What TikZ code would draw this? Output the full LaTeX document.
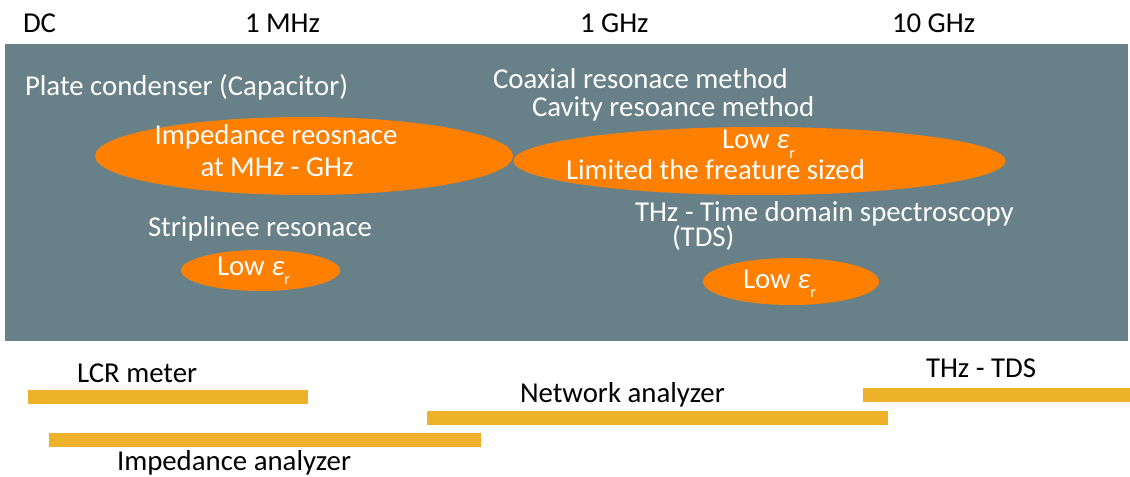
\documentclass[tikz,border=0pt]{standalone}
\usepackage{fontspec}
\setmainfont{Carlito}
\usetikzlibrary{shapes.geometric}
\definecolor{panel}{RGB}{104,128,135}
\definecolor{blob}{RGB}{255,128,0}
\definecolor{barc}{RGB}{237,178,42}
\newcommand{\epsr}{{\itshape ε}\raisebox{-0.33em}{\fontsize{12}{12}\selectfont r}}
\begin{document}
\begin{tikzpicture}[x=0.75pt,y=-0.75pt,
  lbl/.style={inner sep=0pt, outer sep=0pt, font=\fontsize{21.6}{21.6}\selectfont, text=black},
  wt/.style={lbl, text=white},
  ell/.style={ellipse, fill=blob, draw=none, inner sep=0pt},
  bar/.style={fill=barc}]
\useasboundingbox (0,0) rectangle (1130,477);
\fill[white] (0,0) rectangle (1130,477);
% panel
\fill[panel] (5,44) rectangle (1128,341);
% top axis labels
\node[lbl, anchor=base west] (dc) at (23,33) {DC};
\node[lbl, anchor=base west] (mhz) at (245,33) {1 MHz};
\node[lbl, anchor=base west] (ghz) at (580,33) {1 GHz};
\node[lbl, anchor=base west] (tghz) at (892,33) {10 GHz};
% ellipses
\node[ell, minimum width=313.5pt, minimum height=58.5pt] (e1) at (304,156) {};
\node[ell, minimum width=369pt, minimum height=51pt] (e2) at (759.5,161) {};
\node[ell, minimum width=119.25pt, minimum height=30.75pt] (e3) at (260.5,270.5) {};
\node[ell, minimum width=132pt, minimum height=35.25pt] (e4) at (791,281.5) {};
% white texts
\node[wt, anchor=base west] (plate) at (25,96) {Plate condenser (Capacitor)};
\node[wt, anchor=base] (imp1) at (276,145) {Impedance reosnace};
\node[wt, anchor=base] (imp2) at (277,177) {at MHz - GHz};
\node[wt, anchor=base west] (strip) at (148,236) {Striplinee resonace};
\node[wt, anchor=base west] (low1) at (217,275) {Low \epsr};
\node[wt, anchor=base west] (coax) at (493,89) {Coaxial resonace method};
\node[wt, anchor=base west] (cav) at (532,117) {Cavity resoance method};
\node[wt, anchor=base west] (lowb) at (722,149) {Low \epsr};
\node[wt, anchor=base west] (lim) at (566,180) {Limited the freature sized};
\node[wt, anchor=base west] (thz) at (635,222) {THz - Time domain spectroscopy};
\node[wt, anchor=base west] (tds) at (672,246) {(TDS)};
\node[wt, anchor=base west] (low2) at (743,288) {Low \epsr};
% bars
\fill[bar] (28,390) rectangle (308,403.5);
\fill[bar] (427,410.5) rectangle (888,424.5);
\fill[bar] (863,388) rectangle (1130,401.5);
\fill[bar] (49,433) rectangle (481,446.5);
% bar labels
\node[lbl, anchor=base west] (lcr) at (77,382) {LCR meter};
\node[lbl, anchor=base west] (net) at (520,402.5) {Network analyzer};
\node[lbl, anchor=base west] (thztds) at (926,377) {THz - TDS};
\node[lbl, anchor=base west] (impa) at (117,470) {Impedance analyzer};
\end{tikzpicture}
\end{document}
